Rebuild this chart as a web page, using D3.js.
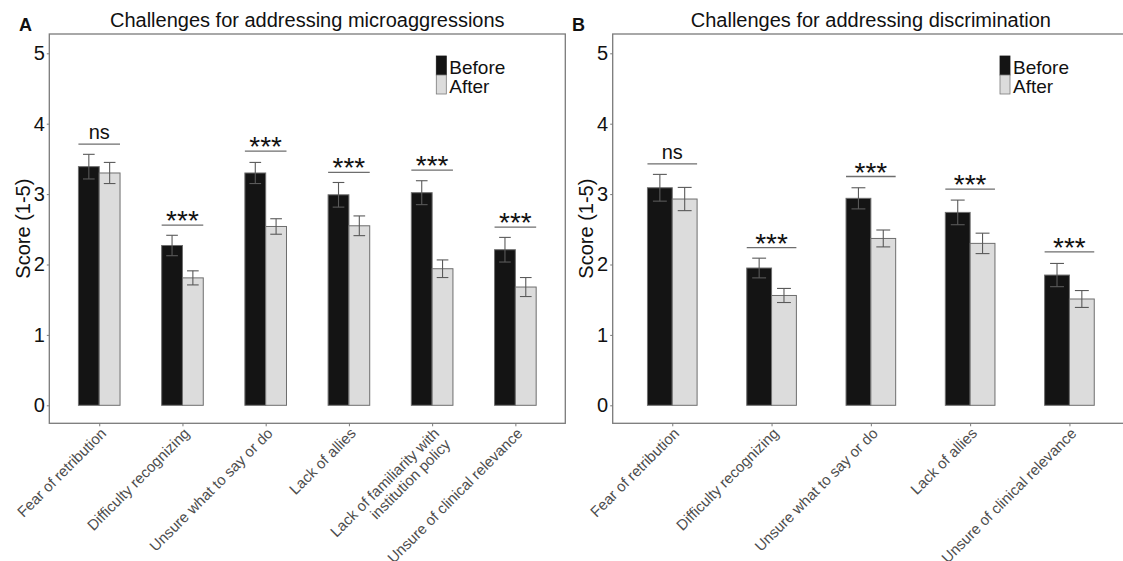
<!DOCTYPE html>
<html>
<head>
<meta charset="utf-8">
<script src="https://cdnjs.cloudflare.com/ajax/libs/d3/7.8.5/d3.min.js"></script>
<style>
  body { margin: 0; background: #fff; }
  text { font-family: "Liberation Sans", Arial, sans-serif; }
</style>
</head>
<body>
<script>
// panel A: microaggressions
var catsA = ["Fear of retribution", "Difficulty recognizing", "Unsure what to say or do",
             "Lack of allies", "Lack of familiarity with\ninstitution policy", "Unsure of clinical relevance"];
var beforeA = [3.39, 2.27, 3.30, 2.99, 3.02, 2.21];
var beforeErrA = [0.175, 0.145, 0.15, 0.175, 0.17, 0.175];
var afterA = [3.30, 1.81, 2.54, 2.55, 1.94, 1.68];
var afterErrA = [0.15, 0.10, 0.11, 0.14, 0.125, 0.135];
var sigA = ["ns", "***", "***", "***", "***", "***"];
var sigYA = [3.71, 2.56, 3.61, 3.31, 3.34, 2.53];

// panel B: discrimination
var catsB = ["Fear of retribution", "Difficulty recognizing", "Unsure what to say or do",
             "Lack of allies", "Unsure of clinical relevance"];
var beforeB = [3.09, 1.95, 2.94, 2.74, 1.85];
var beforeErrB = [0.19, 0.14, 0.15, 0.175, 0.165];
var afterB = [2.93, 1.56, 2.37, 2.30, 1.51];
var afterErrB = [0.165, 0.10, 0.12, 0.145, 0.12];
var sigB = ["ns", "***", "***", "***", "***"];
var sigYB = [3.43, 2.24, 3.25, 3.07, 2.18];

var yTicks = [0, 1, 2, 3, 4, 5];
var seriesNames = ["Before", "After"];

var svg = d3.select("body").append("svg")
    .attr("width", 1123)
    .attr("height", 561);

svg.append("rect").attr("width", 1123).attr("height", 561).attr("fill", "#fff");

var frameTop = 34, frameBottom = 423.3;
var y = d3.scaleLinear()
    .domain([0, 5])
    .range([405.3, 53.3]);

function panel(o) {
    var g = svg.append("g");
    var x = d3.scalePoint()
        .domain(o.cats)
        .range([o.left, o.right])
        .padding(0.6);
    var bw = x.step() * 0.25;

    // frame
    g.append("rect")
        .attr("x", o.left).attr("y", frameTop)
        .attr("width", o.right - o.left).attr("height", frameBottom - frameTop)
        .attr("fill", "none").attr("stroke", "#7a7a7a").attr("stroke-width", 1.3);

    // y axis
    var ya = g.append("g")
        .attr("transform", "translate(" + o.left + ",0)")
        .call(d3.axisLeft(y).tickValues(yTicks).tickSize(2.5).tickPadding(2).tickFormat(d3.format("d")));
    ya.select(".domain").remove();
    ya.selectAll(".tick line").attr("stroke", "#7a7a7a");
    ya.selectAll(".tick text").attr("font-size", 20).attr("fill", "#111")
        .attr("font-family", "Liberation Sans, Arial, sans-serif");

    // x axis ticks
    var xa = g.append("g")
        .attr("transform", "translate(0," + frameBottom + ")")
        .call(d3.axisBottom(x).tickSize(3).tickFormat(""));
    xa.select(".domain").remove();
    xa.selectAll(".tick line").attr("stroke", "#7a7a7a");

    // x labels, rotated
    o.cats.forEach(function (c) {
        var t = g.append("text")
            .attr("transform", "translate(" + (x(c) + 8) + "," + (frameBottom + 11) + ") rotate(-45)")
            .attr("text-anchor", "end")
            .attr("font-size", 15)
            .attr("fill", "#4d4d4d");
        c.split("\n").forEach(function (line, i) {
            t.append("tspan").attr("x", 0).attr("dy", i ? "1.05em" : 0).text(line);
        });
    });

    // bars
    var flat = d3.merge(o.cats.map(function (c, i) {
        return [
            {cat: c, k: 0, v: o.before[i], e: o.beforeErr[i]},
            {cat: c, k: 1, v: o.after[i], e: o.afterErr[i]}
        ];
    }));

    g.selectAll(".bar").data(flat).enter().append("rect")
        .attr("class", "bar")
        .attr("x", function (d) { return x(d.cat) - (d.k ? 0 : bw); })
        .attr("y", function (d) { return y(d.v); })
        .attr("width", bw)
        .attr("height", function (d) { return y(0) - y(d.v); })
        .attr("fill", function (d) { return d.k ? "#dcdcdc" : "#141414"; })
        .attr("stroke", "#6e6e6e")
        .attr("stroke-width", 1);

    // error bars
    var cap = bw * 0.28;
    var eb = g.selectAll(".err").data(flat).enter().append("g")
        .attr("class", "err")
        .attr("stroke", "#5a5a5a")
        .attr("stroke-width", 1.1);
    eb.append("line")
        .attr("x1", function (d) { return x(d.cat) + (d.k ? bw / 2 : -bw / 2); })
        .attr("x2", function (d) { return x(d.cat) + (d.k ? bw / 2 : -bw / 2); })
        .attr("y1", function (d) { return y(d.v + d.e); })
        .attr("y2", function (d) { return y(d.v - d.e); });
    [1, -1].forEach(function (s) {
        eb.append("line")
            .attr("x1", function (d) { return x(d.cat) + (d.k ? bw / 2 : -bw / 2) - cap; })
            .attr("x2", function (d) { return x(d.cat) + (d.k ? bw / 2 : -bw / 2) + cap; })
            .attr("y1", function (d) { return y(d.v + s * d.e); })
            .attr("y2", function (d) { return y(d.v + s * d.e); });
    });

    // significance brackets
    o.cats.forEach(function (c, i) {
        var ly = y(o.sigY[i]);
        g.append("line")
            .attr("x1", x(c) - bw).attr("x2", x(c) + bw)
            .attr("y1", ly).attr("y2", ly)
            .attr("stroke", "#6e6e6e").attr("stroke-width", 1.3);
        var ns = o.sig[i] === "ns";
        g.append("text")
            .attr("x", x(c))
            .attr("y", ns ? ly - 5 : ly + 5)
            .attr("text-anchor", "middle")
            .attr("font-size", ns ? 20 : 28)
            .attr("fill", "#111")
            .text(o.sig[i]);
    });

    // legend
    var lx = o.right - 129;
    seriesNames.forEach(function (s, i) {
        g.append("rect")
            .attr("x", lx).attr("y", 56 + i * 19)
            .attr("width", 10).attr("height", 19)
            .attr("fill", i ? "#dcdcdc" : "#141414")
            .attr("stroke", i ? "#7a7a7a" : "#141414")
            .attr("stroke-width", 0.8);
        g.append("text")
            .attr("x", lx + 13).attr("y", 73.5 + i * 19)
            .attr("font-size", 19)
            .attr("fill", "#111")
            .text(s);
    });

    // titles
    g.append("text")
        .attr("x", (o.left + o.right) / 2).attr("y", 27)
        .attr("text-anchor", "middle")
        .attr("font-size", 20)
        .attr("fill", "#111")
        .text(o.title);
    g.append("text")
        .attr("x", o.letterX).attr("y", 31)
        .attr("font-size", 18).attr("font-weight", "bold")
        .attr("fill", "#111")
        .text(o.letter);
    g.append("text")
        .attr("transform", "translate(" + (o.left - 19.5) + "," + ((frameTop + frameBottom) / 2) + ") rotate(-90)")
        .attr("text-anchor", "middle")
        .attr("font-size", 20)
        .attr("fill", "#111")
        .text("Score (1-5)");
}

panel({
    cats: catsA, before: beforeA, beforeErr: beforeErrA, after: afterA, afterErr: afterErrA,
    sig: sigA, sigY: sigYA, left: 49.3, right: 565.3,
    title: "Challenges for addressing microaggressions", letter: "A", letterX: 19
});
panel({
    cats: catsB, before: beforeB, beforeErr: beforeErrB, after: afterB, afterErr: afterErrB,
    sig: sigB, sigY: sigYB, left: 612.7, right: 1129,
    title: "Challenges for addressing discrimination", letter: "B", letterX: 572
});
</script>
</body>
</html>
